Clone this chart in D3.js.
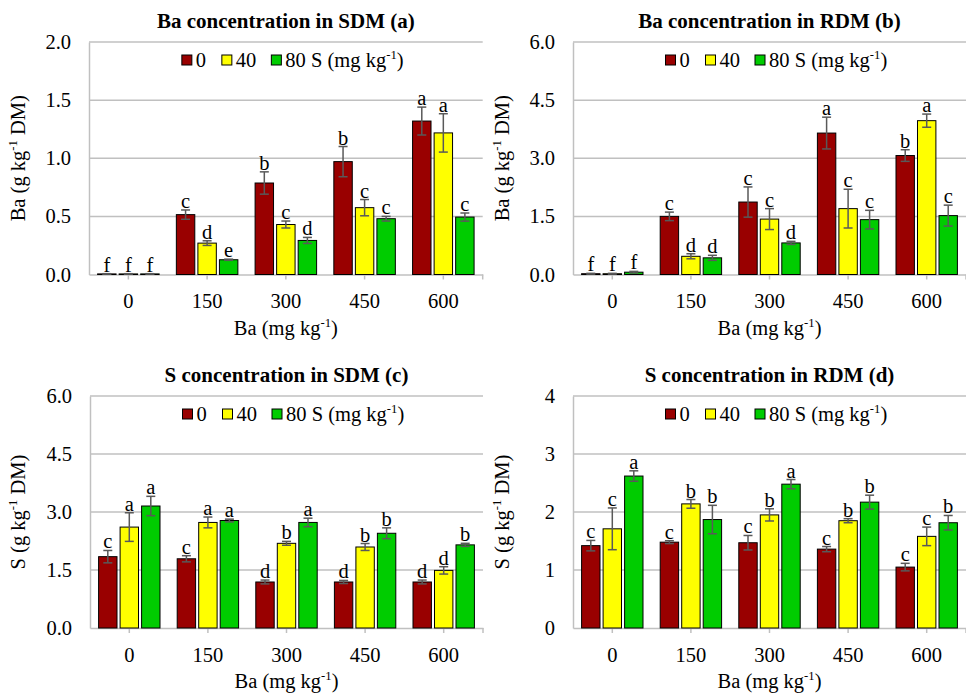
<!DOCTYPE html>
<html><head><meta charset="utf-8">
<script src="https://cdn.jsdelivr.net/npm/d3@7"></script>
<style>body{margin:0;background:#fff}svg{display:block}
svg text{font-family:'Liberation Serif','Times New Roman',Tinos,'DejaVu Serif',serif !important;fill:#000}</style>
</head><body><svg id="c" width="966" height="693"></svg>
<script>
const categories = ["0","150","300","450","600"];
const seriesNames = ["0","40","80"];
const colors = ["#990000","#FFFF00","#00CC00"];

// Panel (a) Ba in SDM
const baSdmValues = [[0.005,0.515,0.787,0.971,1.32],[0.005,0.27,0.43,0.575,1.218],[0.005,0.127,0.293,0.48,0.494]];
const baSdmErrors = [[0.002,0.04,0.096,0.13,0.12],[0.002,0.02,0.03,0.07,0.165],[0.002,0.005,0.026,0.02,0.035]];
const baSdmLetters = [["f","c","b","b","a"],["f","d","c","c","a"],["f","e","d","c","c"]];
// Panel (b) Ba in RDM
const baRdmValues = [[0.02,1.50,1.87,3.65,3.07],[0.02,0.47,1.43,1.70,3.97],[0.06,0.43,0.815,1.416,1.52]];
const baRdmErrors = [[0.01,0.11,0.39,0.41,0.15],[0.01,0.065,0.27,0.5,0.17],[0.02,0.065,0.04,0.24,0.27]];
const baRdmLetters = [["f","c","c","a","b"],["f","d","c","c","a"],["f","d","d","c","c"]];
// Panel (c) S in SDM
const sSdmValues = [[1.845,1.79,1.19,1.19,1.19],[2.61,2.73,2.19,2.095,1.49],[3.155,2.78,2.73,2.45,2.15]];
const sSdmErrors = [[0.16,0.08,0.05,0.04,0.05],[0.37,0.14,0.05,0.09,0.095],[0.25,0.035,0.11,0.14,0.04]];
const sSdmLetters = [["c","c","d","d","d"],["a","a","b","b","d"],["a","a","a","b","b"]];
// Panel (d) S in RDM
const sRdmValues = [[1.42,1.48,1.47,1.36,1.05],[1.71,2.14,1.95,1.85,1.58],[2.62,1.87,2.48,2.17,1.815]];
const sRdmErrors = [[0.09,0.025,0.125,0.045,0.065],[0.36,0.075,0.105,0.035,0.16],[0.09,0.245,0.08,0.12,0.125]];
const sRdmLetters = [["c","c","c","c","c"],["c","b","b","b","c"],["a","b","a","b","b"]];

const ticksA = [0,0.5,1.0,1.5,2.0];
const ticksB = [0,1.5,3.0,4.5,6.0];
const ticksD = [0,1,2,3,4];

const svg = d3.select("#c");
const FS = 20.5;

function supText(sel, parts){
  sel.append("tspan").text(parts[0]);
  sel.append("tspan").attr("font-size", FS*0.62).attr("dy", -8).text(parts[1]);
  sel.append("tspan").attr("dy", 8).text(parts[2]);
}

function panel(o){
  const g = svg.append("g");
  const x0 = d3.scaleBand().domain(categories).range([o.left,o.right]).padding(0);
  const x1 = d3.scaleBand().domain(seriesNames).range([0,x0.bandwidth()]).paddingInner(0.144).paddingOuter(0.4);
  const y = d3.scaleLinear().domain([0,o.max]).range([o.bottom,o.top]);
  g.append("g").selectAll("line").data(o.ticks.slice(1)).join("line")
    .attr("x1",o.left).attr("x2",o.right).attr("y1",d=>y(d)).attr("y2",d=>y(d))
    .attr("stroke","#c0c0c0").attr("stroke-width",1.5);
  const ya = d3.axisLeft(y).tickValues(o.ticks).tickFormat(o.fmt).tickSize(0).tickPadding(18);
  const yg = g.append("g").attr("transform",`translate(${o.left},0)`).call(ya);
  yg.attr("font-family",null).attr("font-size",null);
  yg.select(".domain").attr("stroke","#c0c0c0").attr("stroke-width",1.5);
  yg.selectAll("text").attr("font-size",FS).attr("fill","#000");
  const xa = d3.axisBottom(x0).tickSize(5).tickPadding(14).tickSizeOuter(0);
  const xg = g.append("g").attr("transform",`translate(0,${o.bottom})`).call(xa);
  xg.attr("font-family",null).attr("font-size",null);
  xg.select(".domain").attr("stroke","#c0c0c0").attr("stroke-width",1.5);
  xg.selectAll("line").attr("stroke","#c0c0c0").attr("stroke-width",1.5);
  xg.selectAll("text").attr("font-size",FS).attr("fill","#000");
  xg.append("line").attr("x1",o.right).attr("x2",o.right).attr("y1",0).attr("y2",5).attr("stroke","#c0c0c0").attr("stroke-width",1.5);
  seriesNames.forEach((s,si)=>{
    const sg = g.append("g");
    categories.forEach((c,ci)=>{
      const v = o.values[si][ci], e = o.errors[si][ci];
      const bx = x0(c)+x1(s), bw = x1.bandwidth(), cx = bx+bw/2;
      sg.append("rect").attr("x",bx).attr("y",y(v)).attr("width",bw).attr("height",o.bottom-y(v))
        .attr("fill",colors[si]).attr("stroke","#000").attr("stroke-width",1);
      const e1 = y(v+e), e2 = y(Math.max(0,v-e));
      sg.append("line").attr("x1",cx).attr("x2",cx).attr("y1",e1).attr("y2",e2).attr("stroke","#595959").attr("stroke-width",1.5);
      [e1,e2].forEach(yy=>sg.append("line").attr("x1",cx-4.5).attr("x2",cx+4.5).attr("y1",yy).attr("y2",yy).attr("stroke","#595959").attr("stroke-width",1.5));
      sg.append("text").attr("x",cx).attr("y",e1-2).attr("text-anchor","middle").attr("font-size",FS).text(o.letters[si][ci]);
    });
  });
  g.append("text").attr("x",(o.left+o.right)/2).attr("y",o.top-14).attr("text-anchor","middle")
    .attr("font-size",21).attr("font-weight","bold").text(o.title);
  const ly = o.top+19;
  const lx = (o.left+o.right)/2 - 104;
  const offs = [0,40,89.5];
  seriesNames.forEach((s,si)=>{
    g.append("rect").attr("x",lx+offs[si]).attr("y",ly-6).attr("width",10).attr("height",10)
      .attr("fill",colors[si]).attr("stroke","#000").attr("stroke-width",1);
    const t = g.append("text").attr("x",lx+offs[si]+14).attr("y",ly+6).attr("font-size",FS);
    if(si<2) t.text(seriesNames[si]);
    else supText(t,["80 S (mg kg","-1",")"]);
  });
  const xt = g.append("text").attr("x",(o.left+o.right)/2).attr("y",o.bottom+60).attr("text-anchor","middle").attr("font-size",FS);
  supText(xt,["Ba (mg kg","-1",")"]);
  const yt = g.append("text").attr("transform",`translate(${o.ytx},${(o.top+o.bottom)/2}) rotate(-90)`).attr("text-anchor","middle").attr("font-size",FS);
  supText(yt,[o.ylab+" (g kg","-1"," DM)"]);
}

panel({left:89,right:482.7,top:42,bottom:274.5,max:2,ticks:ticksA,fmt:d3.format(".1f"),values:baSdmValues,errors:baSdmErrors,letters:baSdmLetters,title:"Ba concentration in SDM (a)",ylab:"Ba",ytx:25});
panel({left:573,right:966,top:42,bottom:274.5,max:6,ticks:ticksB,fmt:d3.format(".1f"),values:baRdmValues,errors:baRdmErrors,letters:baRdmLetters,title:"Ba concentration in RDM (b)",ylab:"Ba",ytx:509});
panel({left:90,right:483,top:396,bottom:628,max:6,ticks:ticksB,fmt:d3.format(".1f"),values:sSdmValues,errors:sSdmErrors,letters:sSdmLetters,title:"S concentration in SDM (c)",ylab:"S",ytx:25});
panel({left:573,right:966,top:396,bottom:628,max:4,ticks:ticksD,fmt:d3.format("d"),values:sRdmValues,errors:sRdmErrors,letters:sRdmLetters,title:"S concentration in RDM (d)",ylab:"S",ytx:509});
</script></body></html>
